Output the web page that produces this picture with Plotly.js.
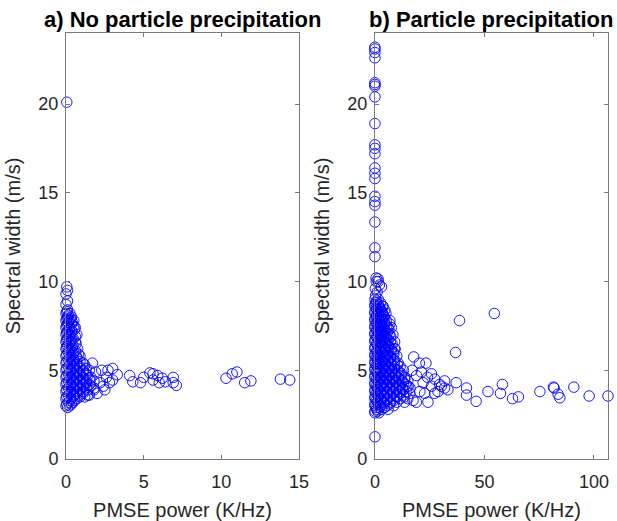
<!DOCTYPE html>
<html>
<head>
<meta charset="utf-8">
<script src="https://cdn.plot.ly/plotly-3.0.1.min.js"></script>
<style>html,body{margin:0;padding:0;background:#fff}#chart{width:617px;height:521px}</style>
</head>
<body>
<div id="chart"></div>
<script>
// ---- Data: [PMSE power (K/Hz), Spectral width (m/s)] ----
// a) No particle precipitation: dense core near zero power
const noPrecipCore = [
 [0.05,9.7],[0.1,9.5],[0.0,9.3],[0.1,8.9],[0.0,8.7],[0.1,8.4],
 [0.0,8.2],[0.25,8.2],[0.1,8.0],[0.35,8.0],
 [0.0,7.8],[0.2,7.8],[0.5,7.8],[0.1,7.6],[0.35,7.6],
 [0.0,7.4],[0.25,7.4],[0.6,7.4],[0.1,7.2],[0.4,7.2],
 [0.0,7.0],[0.25,7.0],[0.7,7.0],[0.1,6.8],[0.45,6.8],
 [0.0,6.6],[0.3,6.6],[0.6,6.6],[0.1,6.4],[0.45,6.4],
 [0.0,6.2],[0.3,6.2],[0.75,6.2],[0.15,6.0],[0.5,6.0],
 [0.0,5.8],[0.3,5.8],[0.65,5.8],[0.9,5.8],[0.15,5.6],[0.5,5.6],
 [0.0,5.4],[0.3,5.4],[0.7,5.4],[1.1,5.4],[0.15,5.2],[0.5,5.2],[0.9,5.2],
 [0.0,5.0],[0.3,5.0],[0.7,5.0],[1.1,5.0],[1.5,5.0],
 [0.15,4.8],[0.5,4.8],[0.9,4.8],[1.3,4.8],
 [0.0,4.6],[0.3,4.6],[0.7,4.6],[1.1,4.6],[1.6,4.6],
 [0.15,4.4],[0.5,4.4],[0.9,4.4],[1.3,4.4],[1.8,4.4],
 [0.0,4.2],[0.3,4.2],[0.7,4.2],[1.1,4.2],[1.5,4.2],
 [0.15,4.0],[0.5,4.0],[0.9,4.0],[1.3,4.0],[1.8,4.0],
 [0.0,3.8],[0.3,3.8],[0.7,3.8],[1.1,3.8],
 [0.15,3.6],[0.5,3.6],[0.9,3.6],[1.4,3.6],
 [0.0,3.4],[0.3,3.4],[0.7,3.4],[0.15,3.2],[0.45,3.2],
 [0.0,3.0],[0.25,3.0],[0.1,2.9]
];
const noPrecipCore2 = [
 [0.05,8.3],[0.15,8.1],[0.05,7.9],[0.3,7.9],[0.15,7.7],[0.4,7.7],[0.05,7.5],[0.5,7.5],
 [0.2,7.3],[0.55,7.3],[0.05,7.1],[0.35,7.1],[0.2,6.9],[0.6,6.9],[0.05,6.7],[0.35,6.7],
 [0.2,6.5],[0.65,6.5],[0.05,6.3],[0.4,6.3],[0.2,6.1],[0.6,6.1],
 [0.05,5.9],[0.45,5.9],[0.8,5.9],[0.25,5.7],[0.7,5.7],[0.05,5.5],[0.45,5.5],[0.9,5.5],
 [0.25,5.3],[0.7,5.3],[1.2,5.3],[0.05,5.1],[0.45,5.1],[0.9,5.1],[1.3,5.1],
 [0.25,4.9],[0.7,4.9],[1.1,4.9],[0.05,4.7],[0.45,4.7],[0.9,4.7],[1.4,4.7],
 [0.25,4.5],[0.7,4.5],[1.1,4.5],[1.5,4.5],[0.05,4.3],[0.45,4.3],[0.9,4.3],[1.3,4.3],
 [0.25,4.1],[0.7,4.1],[1.1,4.1],[1.6,4.1],[0.05,3.9],[0.45,3.9],[0.9,3.9],[1.4,3.9],
 [0.25,3.7],[0.7,3.7],[1.1,3.7],[0.05,3.5],[0.45,3.5],[0.9,3.5],
 [0.25,3.3],[0.55,3.3],[0.05,3.1],[0.35,3.1]
];
// a) points between 1.5 and 3.5 K/Hz
const noPrecipMid = [
 [1.7,5.4],[2.3,5.0],[2.7,5.0],[3.0,5.1],[3.0,4.45],[2.4,4.1],[2.0,3.7],
 [2.6,4.6],[3.3,4.75],[2.2,4.3],[1.8,3.9],[1.5,3.6],[1.2,3.5],[2.5,3.9],
 [2.8,4.3],[1.9,4.9]
];
// a) high-power tail and outlier
const noPrecipTail = [
 [4.1,4.7],[4.3,4.35],[4.8,4.3],[5.0,4.6],[5.4,4.85],[5.6,4.45],[5.6,4.8],
 [6.2,4.55],[6.4,4.35],[6.9,4.6],[6.9,4.3],[7.1,4.15],[5.9,4.7],[6.0,4.3],
 [10.3,4.55],[10.7,4.8],[11.0,4.9],[11.5,4.3],[11.9,4.4],[13.8,4.5],[14.4,4.45],
 [0.05,20.1]
];

// b) Particle precipitation: dense core near zero power
const precipCore = [
 [0,9.0],[1.5,9.0],[0.5,8.8],[2.5,8.8],[0,8.6],[1.8,8.6],[3.6,8.6],
 [0.8,8.4],[2.8,8.4],[4.5,8.4],[0,8.2],[1.6,8.2],[3.4,8.2],[5.0,8.2],
 [0.6,8.0],[2.4,8.0],[4.2,8.0],[0,7.8],[1.5,7.8],[3.2,7.8],[5.2,7.8],[6.8,7.8],
 [0.8,7.6],[2.5,7.6],[4.5,7.6],[0,7.4],[1.8,7.4],[3.8,7.4],[6.0,7.4],[7.5,7.4],
 [0.9,7.2],[2.8,7.2],[5.0,7.2],[0,7.0],[2.0,7.0],[4.0,7.0],[6.5,7.0],[8.2,7.0],
 [1.0,6.8],[3.0,6.8],[5.5,6.8],[0,6.6],[2.2,6.6],[4.5,6.6],[7.0,6.6],[9.0,6.6],
 [1.2,6.4],[3.5,6.4],[6.0,6.4],[0,6.2],[2.4,6.2],[4.8,6.2],[7.5,6.2],[9.2,6.2],
 [1.0,6.0],[3.5,6.0],[6.0,6.0],[8.5,6.0],[0,5.8],[2.2,5.8],[4.6,5.8],[7.0,5.8],[10.0,5.8],
 [1.2,5.6],[3.4,5.6],[5.8,5.6],[8.5,5.6],[0,5.4],[2.4,5.4],[4.8,5.4],[7.2,5.4],[10.6,5.4],
 [1.0,5.2],[3.6,5.2],[6.2,5.2],[9.0,5.2],[11.5,5.2],
 [0,5.0],[2.5,5.0],[5.0,5.0],[7.6,5.0],[10.4,5.0],[13.0,5.0],
 [1.2,4.8],[3.8,4.8],[6.4,4.8],[9.2,4.8],[12.0,4.8],
 [0,4.6],[2.6,4.6],[5.2,4.6],[7.8,4.6],[10.6,4.6],[13.6,4.6],
 [1.4,4.4],[4.0,4.4],[6.6,4.4],[9.4,4.4],[12.4,4.4],[15.0,4.4],
 [0,4.2],[2.8,4.2],[5.4,4.2],[8.0,4.2],[11.0,4.2],[14.0,4.2],
 [1.2,4.0],[4.0,4.0],[6.8,4.0],[9.6,4.0],[12.6,4.0],[16.0,4.0],
 [0,3.8],[2.6,3.8],[5.4,3.8],[8.2,3.8],[11.2,3.8],[14.5,3.8],
 [1.4,3.6],[4.2,3.6],[7.0,3.6],[9.8,3.6],[13.0,3.6],
 [0,3.4],[2.8,3.4],[5.6,3.4],[8.4,3.4],[11.6,3.4],[15.0,3.4],
 [1.2,3.2],[4.0,3.2],[7.0,3.2],[10.0,3.2],[13.5,3.2],
 [0,3.0],[2.6,3.0],[5.4,3.0],[8.5,3.0],[0.8,2.8],[3.0,2.8],[6.0,2.8],[0,2.6],[1.8,2.6],
 [0.3,9.2],[1.0,9.4],[0.2,9.6],[2.0,9.8],[0.6,10.0],[1.4,10.15],[3.0,9.7],[3.6,8.6],[6.8,7.6],[9.0,6.2]
];
const precipCore2 = [
 [0.8,8.9],[0,8.7],[1.5,8.7],[0.6,8.5],[2.2,8.5],[0,8.3],[1.8,8.3],[3.2,8.3],
 [0.8,8.1],[2.6,8.1],[4.0,8.1],[0,7.9],[1.8,7.9],[3.6,7.9],[0.8,7.7],[2.6,7.7],[4.4,7.7],
 [0,7.5],[1.6,7.5],[3.4,7.5],[5.4,7.5],[0.8,7.3],[2.4,7.3],[4.2,7.3],[6.4,7.3],
 [0,7.1],[1.6,7.1],[3.4,7.1],[5.6,7.1],[0.8,6.9],[2.6,6.9],[4.6,6.9],[7.2,6.9],
 [0,6.7],[1.8,6.7],[3.8,6.7],[6.0,6.7],[0.8,6.5],[2.8,6.5],[5.0,6.5],[7.8,6.5],
 [0,6.3],[1.8,6.3],[4.0,6.3],[6.4,6.3],[0.8,6.1],[2.6,6.1],[5.0,6.1],[7.4,6.1],
 [0,5.9],[1.4,5.9],[3.4,5.9],[5.8,5.9],[8.6,5.9],[0.6,5.7],[2.4,5.7],[4.6,5.7],[7.0,5.7],
 [0,5.5],[1.4,5.5],[3.6,5.5],[6.0,5.5],[9.0,5.5],[0.6,5.3],[2.4,5.3],[5.0,5.3],[7.6,5.3],[10.2,5.3],
 [0,5.1],[1.6,5.1],[3.8,5.1],[6.4,5.1],[8.8,5.1],[0.6,4.9],[2.6,4.9],[5.2,4.9],[7.8,4.9],[11.0,4.9],
 [0,4.7],[1.6,4.7],[4.0,4.7],[6.6,4.7],[9.4,4.7],[12.0,4.7],[0.6,4.5],[2.8,4.5],[5.4,4.5],[8.0,4.5],[11.0,4.5],
 [0,4.3],[1.6,4.3],[4.2,4.3],[6.8,4.3],[9.6,4.3],[13.0,4.3],[0.6,4.1],[2.8,4.1],[5.4,4.1],[8.2,4.1],[11.4,4.1],[14.6,4.1],
 [0,3.9],[1.4,3.9],[4.0,3.9],[6.8,3.9],[9.8,3.9],[13.0,3.9],[0.6,3.7],[2.8,3.7],[5.6,3.7],[8.4,3.7],[11.6,3.7],
 [0,3.5],[1.6,3.5],[4.2,3.5],[7.0,3.5],[10.0,3.5],[13.4,3.5],[0.6,3.3],[2.6,3.3],[5.4,3.3],[8.6,3.3],
 [0,3.1],[1.6,3.1],[4.0,3.1],[6.8,3.1],[0.5,2.9],[2.0,2.9],[4.4,2.9],[0,2.7],[1.2,2.7]
];
// b) points between 13 and 107 K/Hz
const precipMid = [
 [13.6,4.5],[15.2,4.1],[15.9,3.7],[17.4,3.3],[18.9,3.2],[20.5,3.8],[22.0,4.3],
 [22.7,3.7],[24.2,3.2],[25.8,4.1],[27.3,3.7],[28.8,3.8],[29.5,4.2],[31.8,4.0],
 [33.3,3.9],[37.1,4.3],[17.7,5.75],[20.3,5.4],[23.3,5.4],[21.2,4.9],[25.8,4.8],
 [27.3,4.5],[30.3,4.1],[31.8,4.4],[19.0,4.7],[24.0,4.6],[17.0,5.0],
 [36.8,6.0],[38.6,7.8],[54.5,8.2],[41.8,4.0],[41.8,3.6],[46.2,3.25],[51.6,3.8],
 [57.3,3.7],[58.2,4.2],[62.8,3.4],[65.5,3.5],[75.3,3.8],[81.5,4.05],[81.8,4.0],
 [83.6,3.65],[84.4,3.45],[90.8,4.05],[97.8,3.55],[106.4,3.55]
];
// b) column of high spectral widths at zero power, and low outlier
const precipColumn = [
 [0,23.2],[0,23.1],[0,22.9],[0,22.6],[0,21.2],[0,21.1],[0,21.0],[0,20.4],[0,18.9],
 [0,17.7],[0,17.5],[0,17.2],[0,16.4],[0,16.1],[0,15.8],[0,14.8],[0,14.5],
 [0,14.3],[0,13.35],[0,11.9],[0,11.4],[0.5,10.2],[1.5,10.0],[0,1.25]
];

const xTicksA = [0, 5, 10, 15];
const xTicksB = [0, 50, 100];
const yTicks = [0, 5, 10, 15, 20];

const ptsA = noPrecipCore.concat(noPrecipCore2, noPrecipMid, noPrecipTail);
const ptsB = precipCore.concat(precipCore2, precipMid, precipColumn);

const marker = {symbol: 'circle-open', size: 10.5, color: 'rgb(0,0,255)', line: {width: 0.9, color: 'rgb(0,0,255)'}};

const traces = [
 {x: ptsA.map(p => p[0]), y: ptsA.map(p => p[1]), type: 'scatter', mode: 'markers',
  marker: marker, xaxis: 'x', yaxis: 'y', cliponaxis: false, hoverinfo: 'skip'},
 {x: ptsB.map(p => p[0]), y: ptsB.map(p => p[1]), type: 'scatter', mode: 'markers',
  marker: marker, xaxis: 'x2', yaxis: 'y2', cliponaxis: false, hoverinfo: 'skip'}
];

const FONT = 'Liberation Sans, Arial, Helvetica, sans-serif';
const axisCommon = {
  showgrid: false, zeroline: false, showline: true, linecolor: '#7a7a7a', linewidth: 1,
  mirror: 'allticks', ticks: 'inside', ticklen: 4, tickcolor: '#7a7a7a', tickwidth: 1,
  tickfont: {family: FONT, size: 18, color: '#262626'}
};
const xTitleFont = {family: FONT, size: 20, color: '#262626'};

const layout = {
  width: 617, height: 521,
  margin: {l: 66, r: 9, t: 33, b: 62},
  paper_bgcolor: '#fff', plot_bgcolor: '#fff',
  showlegend: false,
  font: {family: FONT, color: '#262626'},
  xaxis: Object.assign({}, axisCommon, {domain: [0, 0.43], range: [0, 15], tickvals: xTicksA, ticklabelstandoff: 6,
    title: {text: 'PMSE power (K/Hz)', font: xTitleFont, standoff: 13}}),
  yaxis: Object.assign({}, axisCommon, {range: [0, 24], tickvals: yTicks, anchor: 'x', ticklabelstandoff: 3,
    title: {text: 'Spectral width (m/s)', font: xTitleFont, standoff: 12}}),
  xaxis2: Object.assign({}, axisCommon, {domain: [0.570, 1], range: [0, 106.4], tickvals: xTicksB, anchor: 'y2', ticklabelstandoff: 6,
    title: {text: 'PMSE power (K/Hz)', font: xTitleFont, standoff: 13}}),
  yaxis2: Object.assign({}, axisCommon, {range: [0, 24], tickvals: yTicks, anchor: 'x2', ticklabelstandoff: 3,
    title: {text: 'Spectral width (m/s)', font: xTitleFont, standoff: 12}}),
  annotations: [
    {text: '<b>a) No particle precipitation</b>', xref: 'paper', yref: 'paper', x: 0.215, y: 1,
     xanchor: 'center', yanchor: 'bottom', showarrow: false, yshift: -1,
     font: {family: FONT, size: 22, color: '#000'}},
    {text: '<b>b) Particle precipitation</b>', xref: 'paper', yref: 'paper', x: 0.785, y: 1,
     xanchor: 'center', yanchor: 'bottom', showarrow: false, yshift: -1,
     font: {family: FONT, size: 22, color: '#000'}}
  ]
};

Plotly.newPlot('chart', traces, layout, {staticPlot: true, displayModeBar: false});
</script>
</body>
</html>
